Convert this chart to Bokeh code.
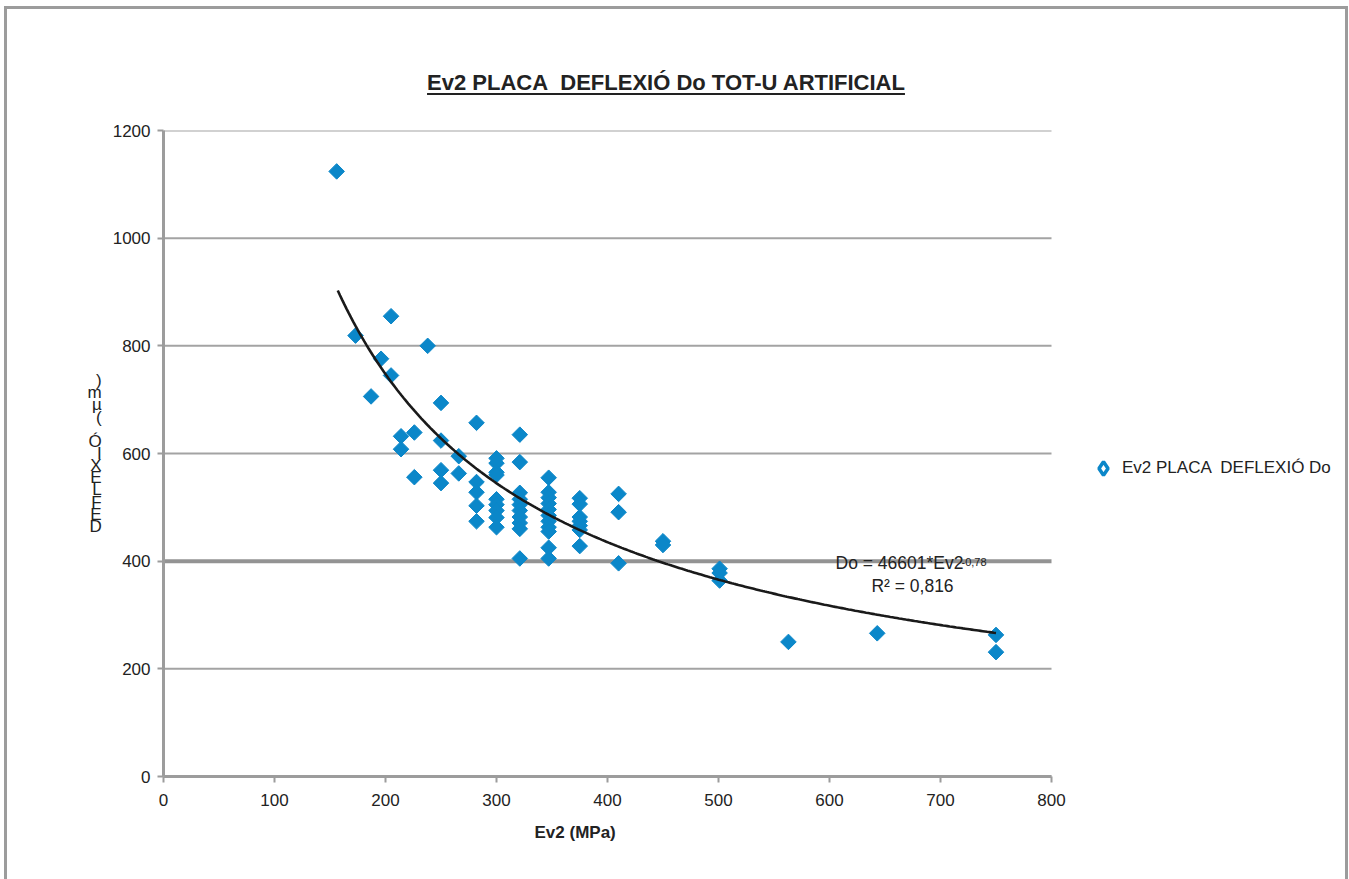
import math
from bokeh.plotting import figure
from bokeh.layouts import column
from bokeh.models import (Label, Legend, LegendItem, FixedTicker, ColumnDataSource,
                          Range1d, Div, Title)
from bokeh.embed import file_html
from bokeh.resources import INLINE

# ---------------- data ----------------
title_text = "Ev2 PLACA&nbsp;&nbsp;DEFLEXIÓ Do TOT-U ARTIFICIAL"
x_label = "Ev2 (MPa)"
y_label = "DEFLEXIÓ (µm)"
series_name = "Ev2 PLACA  DEFLEXIÓ Do"
x_ticks = [0, 100, 200, 300, 400, 500, 600, 700, 800]
y_ticks = [0, 200, 400, 600, 800, 1000, 1200]
x_max = 800
y_max = 1200

ev2 = [156, 173, 187, 196, 205, 205, 214, 214, 226, 226, 238,
       250, 250, 250, 250, 266, 266,
       282, 282, 282, 282, 282,
       300, 300, 300, 300, 300, 300, 300, 300, 300,
       321, 321, 321, 321, 321, 321, 321, 321, 321, 321,
       347, 347, 347, 347, 347, 347, 347, 347, 347, 347, 347,
       375, 375, 375, 375, 375, 375, 375,
       410, 410, 410, 450, 450, 501, 501, 501, 563, 643, 750, 750]
deflexio = [1124, 819, 706, 776, 855, 745, 632, 608, 639, 556, 800,
            694, 624, 569, 545, 595, 563,
            657, 547, 528, 503, 474,
            591, 582, 565, 560, 515, 505, 494, 481, 463,
            635, 584, 527, 515, 505, 494, 482, 471, 460, 405,
            555, 528, 518, 507, 496, 485, 474, 463, 455, 425, 405,
            517, 506, 482, 474, 466, 458, 428,
            525, 491, 396, 437, 430, 386, 378, 364, 250, 266, 263, 231]

# power trendline shown on the chart: Do = 46601*Ev2^-0,78
trend_coef = 46601
trend_exp = -0.78
trend_x_min = 157
trend_x_max = 750
eq_text = "Do = 46601*Ev2"
eq_exp_text = "-0,78"
r2_text = "R² = 0,816"

# ---------------- layout constants (page pixels) ----------------
FONT = "Liberation Sans"
BLUE = "#0b87c9"
GRAY = "#9c9c9c"
TXT = "#222222"

IN_L, IN_T = 7, 9          # inner top-left of the bordered chart area
INNER_W = 1338
DIV_H = 100
FIG_H = 770
FL, FT, FB = 163, 130, 776       # frame edges on the page
AX_R = 1051                      # page x of the value 800
FR = IN_L + INNER_W              # frame extends to the right edge (room for legend)
fig_top = IN_T + DIV_H

x_end = x_max * (FR - FL) / (AX_R - FL)

p = figure(width=INNER_W, height=FIG_H, output_backend="svg", toolbar_location=None,
           x_range=Range1d(0, x_end), y_range=Range1d(0, y_max),
           min_border_left=FL - IN_L, min_border_right=0,
           min_border_top=FT - fig_top, min_border_bottom=FIG_H - (FB - fig_top))
p.title = None
p.outline_line_color = None
p.background_fill_color = "white"
p.border_fill_color = "white"

def sx(px):
    return px - FL

def sy(py):
    return FB - py

# axes
for ax in (p.xaxis[0], p.yaxis[0]):
    ax.axis_line_color = GRAY
    ax.axis_line_width = 3
    ax.major_tick_line_color = GRAY
    ax.major_tick_line_width = 2
    ax.minor_tick_line_color = None
    ax.major_tick_in = 0
    ax.major_tick_out = 6
    ax.major_label_text_font = FONT
    ax.major_label_text_font_size = "17px"
    ax.major_label_text_color = TXT
p.xaxis.bounds = (0, x_max)
p.xaxis.ticker = FixedTicker(ticks=x_ticks)
p.yaxis.ticker = FixedTicker(ticks=y_ticks)
p.xaxis.major_label_standoff = 11
p.yaxis.major_label_standoff = 7

# x-axis title, placed under the 0..800 axis
XPAD = 12
p.add_layout(Title(text=x_label, align="left", offset=534 - FL - XPAD, standoff=0,
                   padding=XPAD,
                   text_font=FONT, text_font_style="bold", text_font_size="17px",
                   text_color=TXT), "below")

# y-axis label: letters stacked upright, reading bottom to top
yax = p.yaxis[0]
try:
    yax.axis_label_orientation = "horizontal"
    yax.axis_label = "\n".join(reversed(list(y_label)))
    yax.axis_label_text_line_height = 0.64
except Exception:
    yax.axis_label = y_label
yax.axis_label_text_font = FONT
yax.axis_label_text_font_size = "17px"
yax.axis_label_text_font_style = "normal"
yax.axis_label_text_color = TXT
yax.axis_label_standoff = 8

# horizontal grid lines limited to the axis extent
p.xgrid.grid_line_color = None
p.ygrid.grid_line_color = None
grid_src = ColumnDataSource(dict(
    x0=[0] * len(y_ticks), x1=[x_max] * len(y_ticks), y=y_ticks,
    w=[4 if t == 400 else 2 for t in y_ticks],
    c=["#939393" if t == 400 else "#a3a3a3" for t in y_ticks]))
p.segment(x0="x0", y0="y", x1="x1", y1="y", source=grid_src,
          line_color="c", line_width="w", level="underlay")

# data points
src = ColumnDataSource(dict(x=ev2, y=deflexio))
p.scatter("x", "y", source=src, marker="square", angle=math.pi / 4, size=11,
          fill_color=BLUE, line_color=BLUE, line_width=1)

# trendline
n = 300
tx = [trend_x_min + (trend_x_max - trend_x_min) * i / (n - 1) for i in range(n)]
ty = [trend_coef * v ** trend_exp for v in tx]
p.line(tx, ty, line_color="#1a1a1a", line_width=2.6)

# legend key: zero-size proxy renderer (draws nothing on the plot itself)
leg_r = p.scatter("x", "y", source=src, marker="diamond", size=0,
                  fill_color="white", line_color=BLUE, line_width=3.5)
legend = Legend(items=[LegendItem(label=series_name, renderers=[leg_r])],
                location=(sx(1086), sy(485)), orientation="vertical",
                border_line_color=None, background_fill_alpha=0,
                padding=0, margin=0, spacing=0, glyph_width=34, glyph_height=34,
                label_standoff=2, label_text_font=FONT, label_height=20,
                label_text_font_size="17px", label_text_color=TXT)
p.add_layout(legend)

# equation of the trendline
p.add_layout(Label(x=sx(835), y=sy(562), x_units="screen", y_units="screen",
                   text=eq_text, text_align="left", text_baseline="middle",
                   text_font=FONT, text_font_size="17.5px", text_color=TXT))
p.add_layout(Label(x=sx(961), y=sy(561), x_units="screen", y_units="screen",
                   text=eq_exp_text, text_align="left", text_baseline="middle",
                   text_font=FONT, text_font_size="11px", text_color=TXT))
p.add_layout(Label(x=sx(912), y=sy(585), x_units="screen", y_units="screen",
                   text=r2_text, text_align="center", text_baseline="middle",
                   text_font=FONT, text_font_size="17.5px", text_color=TXT))

# underlined bold title above the chart
title_div = Div(
    text=('<div style="width:%dpx;text-align:center;padding-top:%dpx;'
          'font-family:\'Liberation Sans\';font-size:22px;font-weight:bold;'
          'color:%s;text-decoration:underline;text-decoration-thickness:2px;'
          'text-underline-offset:3px;">%s</div>') % (2 * (666 - IN_L), 80 - IN_T - 13, TXT, title_text),
    width=INNER_W, height=DIV_H, margin=0)

root = column(title_div, p, spacing=0)
root.styles = {"border": "3px solid %s" % GRAY, "margin-left": "4px", "margin-top": "6px",
               "background-color": "white"}

open("out.html", "w").write(file_html(root, INLINE))
